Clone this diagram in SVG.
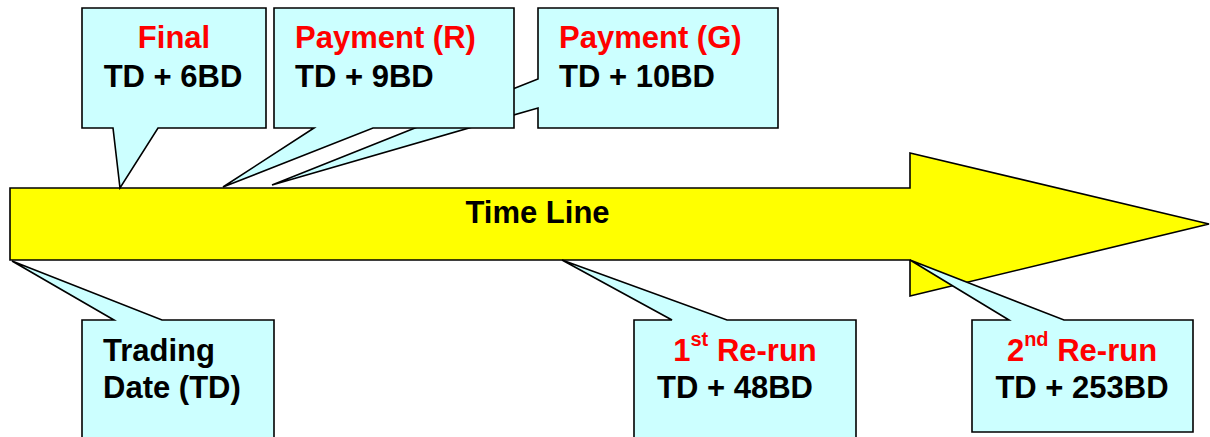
<svg xmlns="http://www.w3.org/2000/svg" width="1210" height="437" viewBox="0 0 1210 437">
<style>
.call{fill:#CCFFFF;stroke:#000;stroke-width:1.6;stroke-linejoin:miter}
.arrow{fill:#FFFF00;stroke:#000;stroke-width:1.6}
text{font-family:"Liberation Sans",Arial,sans-serif;font-weight:bold;font-size:31px}
.r{fill:#FF0000}
.k{fill:#000}
.m{text-anchor:middle}
</style>
<rect width="1210" height="437" fill="#fff"/>
<g id="timeline">
<path class="arrow" d="M10,188 H910 V153 L1209,224 L910,296 V260 H10 Z"/>
<text class="k m" x="537.5" y="223">Time Line</text>
</g>
<g id="payment-g">
<path class="call" d="M538,8 H778 V128 H538 V108 L272,185 L538,79 Z"/>
<text class="r" x="559" y="48">Payment (G)</text>
<text class="k" x="559" y="87">TD + 10BD</text>
</g>
<g id="payment-r">
<path class="call" d="M274,8 H514 V128 H373 L223,187 L314,128 H274 Z"/>
<text class="r" x="295" y="48">Payment (R)</text>
<text class="k" x="295" y="87">TD + 9BD</text>
</g>
<g id="final">
<path class="call" d="M82,8 H266 V128 H158 L120,188 L113,128 H82 Z"/>
<text class="r m" x="174" y="48">Final</text>
<text class="k m" x="173" y="87">TD + 6BD</text>
</g>
<g id="trading-date">
<path class="call" d="M82,320 H114 L12,261 L162,320 H274 V450 H82 Z"/>
<text class="k" x="103" y="361">Trading</text>
<text class="k" x="103" y="398">Date (TD)</text>
</g>
<g id="rerun-1">
<path class="call" d="M634,320 H672 L562,260 L727,320 H856 V450 H634 Z"/>
<text class="r m" x="745" y="361">1<tspan font-size="20" dy="-15">st</tspan><tspan dy="15"> Re-run</tspan></text>
<text class="k" x="657" y="398">TD + 48BD</text>
</g>
<g id="rerun-2">
<path class="call" d="M972,320 H1009 L910,260 L1064,320 H1193 V432 H972 Z"/>
<text class="r m" x="1082" y="361">2<tspan font-size="20" dy="-15">nd</tspan><tspan dy="15"> Re-run</tspan></text>
<text class="k m" x="1082" y="398">TD + 253BD</text>
</g>
<g id="connectors"></g>
</svg>
